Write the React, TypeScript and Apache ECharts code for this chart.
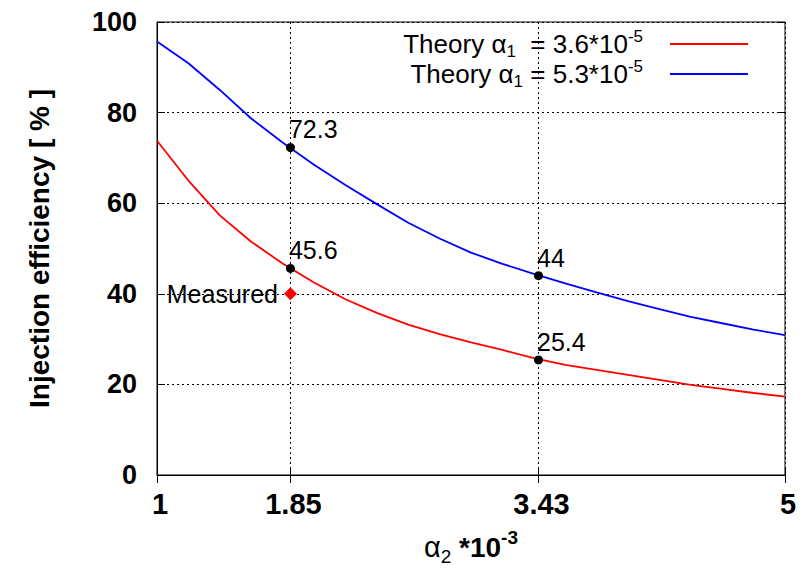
import React, { useEffect, useRef } from "react";
import * as echarts from "echarts";

const FONT = "Liberation Sans";

// alpha_2 (*10^-3) sample positions
const xSamples = [1, 1.2, 1.4, 1.6, 1.8, 2.0, 2.2, 2.4, 2.6, 2.8, 3.0, 3.2, 3.4, 3.6, 3.8, 4.0, 4.2, 4.4, 4.6, 4.8, 5.0];
// Theory alpha_1 = 3.6e-5 (red)
const theoryLow = [73.8, 65.0, 57.3, 51.5, 46.7, 42.5, 38.8, 35.8, 33.2, 31.1, 29.3, 27.6, 25.8, 24.3, 23.2, 22.1, 21.0, 19.9, 19.0, 18.1, 17.3];
// Theory alpha_1 = 5.3e-5 (blue)
const theoryHigh = [95.7, 90.9, 85.0, 78.7, 73.4, 68.5, 64.0, 59.8, 55.7, 52.2, 49.1, 46.6, 44.4, 42.3, 40.3, 38.4, 36.6, 34.9, 33.5, 32.1, 30.9];

const markX = [1.85, 3.43, 1.85, 3.43];
const markY = [72.3, 44, 45.6, 25.4];

const measuredX = [1.85];
const measuredY = [40];

const xTicks = [1, 1.85, 3.43, 5];

const seriesNames = ["theoryLow", "theoryHigh"];
const legendTexts: Record<string, string> = {
  theoryLow: "{t|Theory }{a|α}{sub|1}{t|  = 3.6*10}{sup|-5}",
  theoryHigh: "{t|Theory }{a|α}{sub|1}{t| = 5.3*10}{sup|-5}",
};

const legendRich = {
  t: { fontFamily: FONT, fontSize: 26, color: "#000", lineHeight: 32 },
  a: { fontFamily: FONT, fontSize: 26, color: "#000", lineHeight: 32 },
  sub: { fontFamily: FONT, fontSize: 17, color: "#000", lineHeight: 17, verticalAlign: "bottom" },
  sup: { fontFamily: FONT, fontSize: 17, color: "#000", lineHeight: 17, verticalAlign: "top" },
};

export default function App() {
  const ref = useRef<HTMLDivElement>(null);

  useEffect(() => {
    if (!ref.current) return;
    const chart = echarts.init(ref.current, undefined, { renderer: "svg" });

    const lowData = xSamples.map((x, i) => [x, theoryLow[i]]);
    const highData = xSamples.map((x, i) => [x, theoryHigh[i]]);
    const marks = markX.map((x, i) => [x, markY[i]]);
    const measured = measuredX.map((x, i) => [x, measuredY[i]]);

    const legendBase = {
      orient: "vertical",
      align: "right",
      right: 62,
      icon: "rect",
      itemWidth: 78,
      itemHeight: 2,
      padding: 0,
      selectedMode: false,
      formatter: (name: string) => legendTexts[name],
      textStyle: { rich: legendRich, padding: [0, 22, 0, 0] },
    };

    const option: any = {
      animation: false,
      backgroundColor: "#ffffff",
      grid: {
        left: 157,
        right: 25,
        top: 22,
        bottom: 93,
        show: true,
        borderColor: "#000",
        borderWidth: 1,
        backgroundColor: "transparent",
      },
      legend: [
        { ...legendBase, data: [seriesNames[0]], top: 28 },
        { ...legendBase, data: [seriesNames[1]], top: 58 },
      ],
      xAxis: [
        {
          type: "value",
          min: 1,
          max: 5,
          position: "bottom",
          name: "{a|α}{sub|2}{b| *10}{sup|-3}",
          nameLocation: "middle",
          nameGap: 53,
          nameTextStyle: {
            rich: {
              a: { fontFamily: FONT, fontSize: 29, color: "#000", lineHeight: 38 },
              b: { fontFamily: FONT, fontSize: 28, fontWeight: "bold", color: "#000", lineHeight: 38 },
              sub: { fontFamily: FONT, fontSize: 19, color: "#000", lineHeight: 19, verticalAlign: "bottom" },
              sup: { fontFamily: FONT, fontSize: 19, fontWeight: "bold", color: "#000", lineHeight: 19, verticalAlign: "top" },
            },
          },
          axisLine: { show: true, lineStyle: { color: "#000", width: 1 } },
          axisTick: { show: true, inside: true, length: 8, customValues: xTicks, lineStyle: { color: "#000" } },
          axisLabel: {
            customValues: xTicks,
            fontFamily: FONT,
            fontWeight: "bold",
            fontSize: 29,
            color: "#000",
            margin: 14,
            padding: [0, 0, 0, 6],
            formatter: (v: number) => String(v),
          },
          splitLine: { show: true, lineStyle: { color: "#000", type: [2, 3], width: 1 } },
        },
        {
          type: "value",
          min: 1,
          max: 5,
          position: "top",
          axisLine: { show: false },
          axisTick: { show: true, inside: true, length: 8, customValues: xTicks, lineStyle: { color: "#000" } },
          axisLabel: { show: false },
          splitLine: { show: false },
        },
      ],
      yAxis: [
        {
          type: "value",
          min: 0,
          max: 100,
          interval: 20,
          position: "left",
          name: "Injection efficiency [ % ]",
          nameLocation: "middle",
          nameGap: 104,
          nameTextStyle: { fontFamily: FONT, fontWeight: "bold", fontSize: 28, color: "#000" },
          axisLine: { show: true, lineStyle: { color: "#000", width: 1 } },
          axisTick: { show: true, inside: true, length: 8, lineStyle: { color: "#000" } },
          axisLabel: { fontFamily: FONT, fontWeight: "bold", fontSize: 27, color: "#000", margin: 20 },
          splitLine: { show: true, lineStyle: { color: "#000", type: [2, 3], width: 1 } },
        },
        {
          type: "value",
          min: 0,
          max: 100,
          interval: 20,
          position: "right",
          axisLine: { show: false },
          axisTick: { show: true, inside: true, length: 8, lineStyle: { color: "#000" } },
          axisLabel: { show: false },
          splitLine: { show: false },
        },
      ],
      series: [
        {
          name: seriesNames[0],
          type: "line",
          data: lowData,
          symbol: "none",
          color: "#ff0000",
          lineStyle: { color: "#ff0000", width: 1.8 },
          z: 3,
        },
        {
          name: seriesNames[1],
          type: "line",
          data: highData,
          symbol: "none",
          color: "#0000ff",
          lineStyle: { color: "#0000ff", width: 1.8 },
          z: 3,
        },
        {
          name: "points",
          type: "scatter",
          data: marks,
          symbol: "circle",
          symbolSize: 9,
          itemStyle: { color: "#000", opacity: 1 },
          z: 5,
          label: {
            show: true,
            position: [3, -1],
            align: "left",
            verticalAlign: "bottom",
            fontFamily: FONT,
            fontSize: 25,
            color: "#000",
            opacity: 1,
            textBorderWidth: 0,
            formatter: (p: any) => String(p.value[1]),
          },
        },
        {
          name: "Measured",
          type: "scatter",
          data: measured,
          symbol: "diamond",
          symbolSize: [13, 13],
          itemStyle: { color: "#ff0000", opacity: 1 },
          z: 5,
          label: {
            show: true,
            position: "left",
            distance: 6,
            fontFamily: FONT,
            fontSize: 25,
            color: "#000",
            opacity: 1,
            textBorderWidth: 0,
            formatter: () => "Measured",
          },
        },
      ],
    };

    chart.setOption(option);
    return () => chart.dispose();
  }, []);

  return <div ref={ref} style={{ width: 810, height: 571, position: "absolute", left: 0, top: 0 }} />;
}
